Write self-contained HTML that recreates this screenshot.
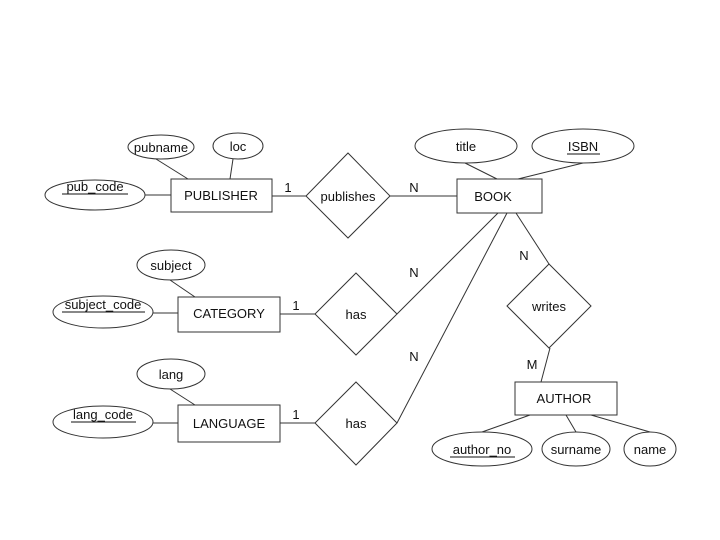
<!DOCTYPE html>
<html><head><meta charset="utf-8"><style>
html,body{margin:0;padding:0;background:#fff;}
svg{display:block;}
text{font-family:"Liberation Sans",Arial,sans-serif;font-size:13px;fill:#111;}
</style></head><body>
<svg width="720" height="540" viewBox="0 0 720 540" xmlns="http://www.w3.org/2000/svg">
<g stroke="#333" stroke-width="1" fill="none">
<!-- lines -->
<line x1="145" y1="195" x2="171" y2="195"/>
<line x1="156" y1="159" x2="188" y2="179"/>
<line x1="233" y1="159" x2="230" y2="179"/>
<line x1="272" y1="196" x2="306" y2="196"/>
<line x1="390" y1="196" x2="457" y2="196"/>
<line x1="465" y1="163" x2="497" y2="179"/>
<line x1="583" y1="163" x2="518" y2="179"/>
<line x1="153" y1="313" x2="178" y2="313"/>
<line x1="170" y1="280" x2="195" y2="297"/>
<line x1="280" y1="314" x2="315" y2="314"/>
<line x1="498" y1="213" x2="397" y2="314"/>
<line x1="153" y1="423" x2="178" y2="423"/>
<line x1="170" y1="389" x2="195" y2="405"/>
<line x1="280" y1="423" x2="315" y2="423"/>
<line x1="507" y1="213" x2="397" y2="423"/>
<line x1="516" y1="213" x2="549" y2="264"/>
<line x1="550" y1="348" x2="541" y2="382"/>
<line x1="530" y1="415" x2="482" y2="432"/>
<line x1="566" y1="415" x2="576" y2="432"/>
<line x1="591" y1="415" x2="650" y2="432"/>
<!-- ellipses -->
<ellipse cx="161" cy="147" rx="33" ry="12"/>
<ellipse cx="238" cy="146" rx="25" ry="13"/>
<ellipse cx="95" cy="195" rx="50" ry="15"/>
<ellipse cx="171" cy="265" rx="34" ry="15"/>
<ellipse cx="103" cy="312" rx="50" ry="16"/>
<ellipse cx="171" cy="374" rx="34" ry="15"/>
<ellipse cx="103" cy="422" rx="50" ry="16"/>
<ellipse cx="466" cy="146" rx="51" ry="17"/>
<ellipse cx="583" cy="146" rx="51" ry="17"/>
<ellipse cx="482" cy="449" rx="50" ry="17"/>
<ellipse cx="576" cy="449" rx="34" ry="17"/>
<ellipse cx="650" cy="449" rx="26" ry="17"/>
<!-- rects -->
<rect x="171" y="179" width="101" height="33" fill="#fff"/>
<rect x="178" y="297" width="102" height="35" fill="#fff"/>
<rect x="178" y="405" width="102" height="37" fill="#fff"/>
<rect x="457" y="179" width="85" height="34" fill="#fff"/>
<rect x="515" y="382" width="102" height="33" fill="#fff"/>
<!-- diamonds -->
<polygon points="348,153 390,196 348,238 306,196" fill="#fff"/>
<polygon points="356,273 397,314 356,355 315,314" fill="#fff"/>
<polygon points="356,382 397,423 356,465 315,423" fill="#fff"/>
<polygon points="549,264 591,306 549,348 507,306" fill="#fff"/>
<!-- underlines -->
<line x1="62" y1="194" x2="128" y2="194" stroke="#111"/>
<line x1="62" y1="312" x2="145" y2="312" stroke="#111"/>
<line x1="71" y1="422" x2="136" y2="422" stroke="#111"/>
<line x1="567" y1="154" x2="600" y2="154" stroke="#111"/>
<line x1="450" y1="457" x2="515" y2="457" stroke="#111"/>
</g>
<g text-anchor="middle">
<text x="161" y="152">pubname</text>
<text x="238" y="151">loc</text>
<text x="95" y="191">pub_code</text>
<text x="221" y="200">PUBLISHER</text>
<text x="348" y="201">publishes</text>
<text x="171" y="270">subject</text>
<text x="103" y="309">subject_code</text>
<text x="229" y="318">CATEGORY</text>
<text x="356" y="319">has</text>
<text x="171" y="379">lang</text>
<text x="103" y="419">lang_code</text>
<text x="229" y="428">LANGUAGE</text>
<text x="356" y="428">has</text>
<text x="466" y="151">title</text>
<text x="583" y="151">ISBN</text>
<text x="493" y="201">BOOK</text>
<text x="549" y="311">writes</text>
<text x="564" y="403">AUTHOR</text>
<text x="482" y="454">author_no</text>
<text x="576" y="454">surname</text>
<text x="650" y="454">name</text>
<text x="288" y="192">1</text>
<text x="296" y="310">1</text>
<text x="296" y="419">1</text>
<text x="414" y="192">N</text>
<text x="414" y="277">N</text>
<text x="414" y="361">N</text>
<text x="524" y="260">N</text>
<text x="532" y="369">M</text>
</g>
</svg>
</body></html>
